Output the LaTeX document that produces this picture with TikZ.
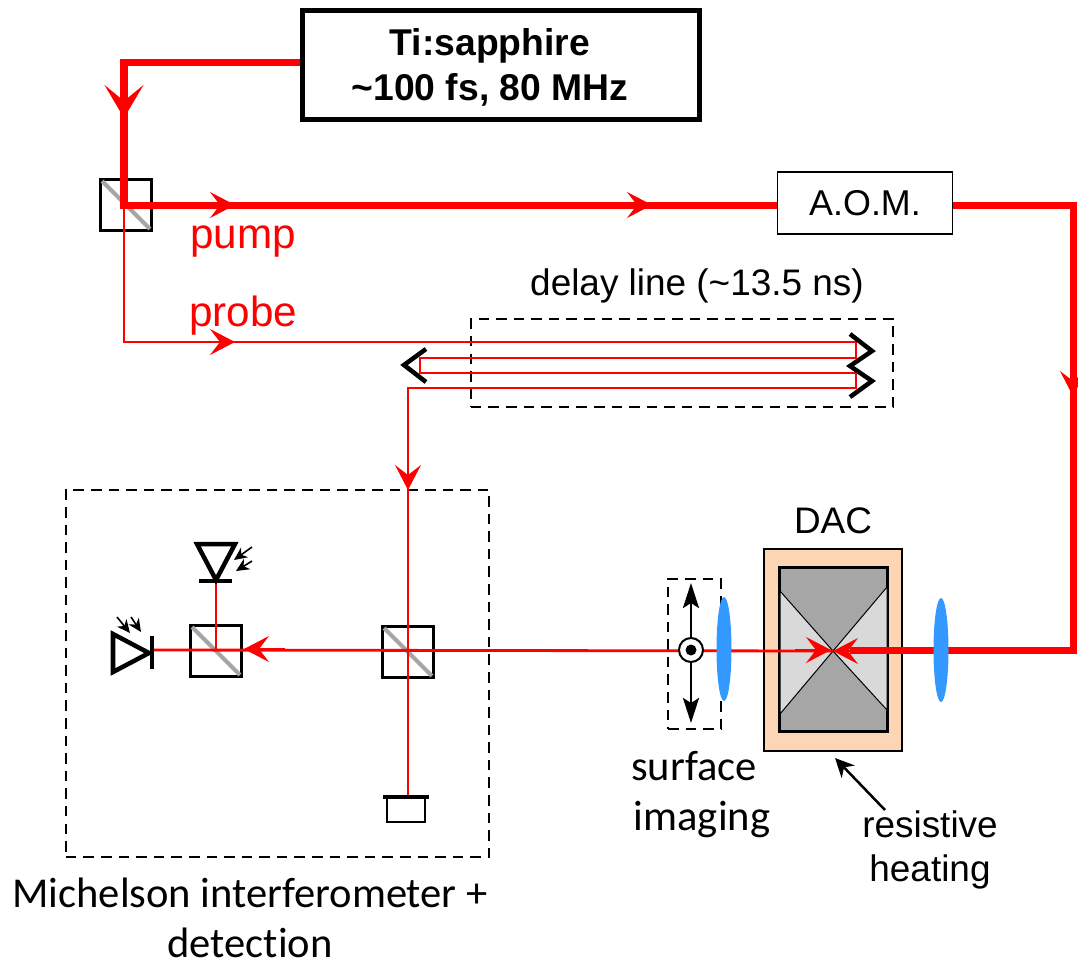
\documentclass[tikz,border=0pt]{standalone}
\usepackage{fontspec}
\setmainfont{Liberation Sans}
\newfontfamily\calfont[Ligatures={NoCommon}]{Carlito}
\usepackage{xcolor}
\usetikzlibrary{arrows.meta,positioning,shapes.geometric}
\definecolor{beamred}{RGB}{255,0,0}
\definecolor{lensblue}{RGB}{51,153,255}
\definecolor{heaterorange}{RGB}{252,213,180}
\definecolor{anvildark}{RGB}{166,166,166}
\definecolor{anvillight}{RGB}{217,217,217}

\begin{document}
\begin{tikzpicture}[
    x=0.01cm, y=-0.01cm,
    pumpbeam/.style={draw=beamred, line width=0.07cm, line join=miter},
    probebeam/.style={draw=beamred, line width=0.028cm, line join=miter},
    bigtip/.style={-{Stealth[length=3.3mm,width=3.9mm,inset=1.6mm]}, draw=beamred, fill=beamred},
    smalltip/.style={-{Stealth[length=2.5mm,width=2.6mm,inset=1mm]}, draw=beamred, fill=beamred},
    cube/.style={rectangle, draw=black, line width=0.025cm, minimum size=0.51cm, inner sep=0pt},
    split/.style={draw=anvildark, line width=0.04cm, shorten <=0.04cm, shorten >=0.04cm},
    framed/.style={draw=black, densely dashed, line width=0.015cm},
    mirror/.style={draw=black, line width=0.045cm},
    lens/.style={ellipse, fill=lensblue, minimum width=0.15cm, minimum height=1.04cm, inner sep=0pt},
    photon/.style={draw=black, line width=0.016cm, -{Stealth[length=1.3mm,width=1.2mm,inset=0.4mm]}},
    motion/.style={draw=black, line width=0.025cm, -{Stealth[length=2.5mm,width=1.6mm,inset=0.5mm]}},
    sign/.style={font=\fontsize{10.5}{12.5}\selectfont, align=center},
    calsign/.style={font=\calfont\fontsize{12.1}{14.8}\selectfont, align=center, inner sep=0pt},
    beamname/.style={font=\fontsize{12}{14}\selectfont, text=beamred}
]
\useasboundingbox (0,0) rectangle (1078,960);

\node[rectangle, draw=black, line width=0.05cm, minimum width=3.97cm, minimum height=1.09cm] (laser) at (501,65) {};
\node[font=\fontsize{10.6}{12.8}\selectfont\bfseries, align=center] (lasertext) at (490,67)
      {Ti:sapphire\\\textasciitilde100 fs, 80 MHz};
\node[rectangle, draw=black, line width=0.015cm, minimum width=1.75cm, minimum height=0.62cm,
      font=\fontsize{10.2}{12}\selectfont] (aom) at (865,203) {A.O.M.};

\node[cube] (bs1) at (126,205) {};
\node[cube] (bs2) at (408,652) {};
\node[cube] (bs3) at (216,651) {};
\draw[split] (bs1.north west) -- (bs1.south east);
\draw[split] (bs2.north west) -- (bs2.south east);
\draw[split] (bs3.north west) -- (bs3.south east);

\node[rectangle, framed, minimum width=4.22cm, minimum height=0.88cm] (delay) at (682,363) {};
\node[rectangle, framed, minimum width=4.23cm, minimum height=3.67cm] (michelson) at (277.5,673.5) {};
\node[rectangle, framed, minimum width=0.53cm, minimum height=1.5cm] (imaging) at (694.5,654) {};

\node[sign] (delaytext) at (697,286) {delay line (\textasciitilde13.5 ns)};
\node[beamname] (pumptext) at (243,242) {pump};
\node[beamname] (probetext) at (243,316) {probe};
\node[calsign] (michelsontext) at (250,893) {Michelson interferometer +};
\node[calsign] (detectiontext) at (250,943) {detection};
\node[calsign] (surfacetext) at (694,766) {surface};
\node[calsign] (imagingtext) at (702,820) {imaging};
\node[sign] (heatingtext) at (930,850) {resistive\\heating};

\node[rectangle, draw=black, line width=0.02cm, fill=heaterorange, minimum width=1.38cm, minimum height=2.02cm] (heater) at (833,650) {};
\node[sign] (dactext) at (833,521) {DAC};
\node[rectangle, draw=black, line width=0.03cm, fill=anvildark, minimum width=1.07cm, minimum height=1.63cm] (cell) at (833.5,649.5) {};
\coordinate (focus) at (833,651);
\coordinate (lefttop) at (780,591);
\coordinate (leftlow) at (780,714);
\coordinate (righttop) at (887,587);
\coordinate (rightlow) at (887,710);
\filldraw[fill=anvillight, draw=black, line width=0.01cm] (lefttop) -- (focus) -- (leftlow) -- cycle;
\filldraw[fill=anvillight, draw=black, line width=0.01cm] (righttop) -- (focus) -- (rightlow) -- cycle;

\coordinate (c1) at (124,62);
\coordinate (c2) at (1073,205);
\coordinate (c3) at (1073,650);
\coordinate (c4) at (124,342);
\coordinate (c5) at (850,650);
\coordinate (t1) at (124,118);
\coordinate (t2) at (235,205);
\coordinate (t3) at (652,205);
\coordinate (t4) at (1073,396);
\coordinate (t5) at (235,342);
\coordinate (t6) at (408,490);
\coordinate (t7) at (244,649);
\coordinate (t8) at (831,650);
\coordinate (r1) at (856,342);
\coordinate (r2) at (856,358);
\coordinate (r3) at (420,358);
\coordinate (r4) at (420,373);
\coordinate (r5) at (856,373);
\coordinate (r6) at (856,388);
\coordinate (r7) at (408,388);
\coordinate (d1) at (216,581);
\coordinate (d2) at (152,650);
\coordinate (endmirror) at (406,797);
\coordinate (h1) at (885,810);
\coordinate (h2) at (835,758);

\draw[pumpbeam] (laser.west |- c1) -- (c1) -- (c1 |- bs1.center) -- (aom.west |- bs1.center);
\draw[pumpbeam] (aom.east |- c2) -- (c2) -- (c3) -- (c5);
\draw[probebeam] (c1 |- bs1.center) -- (c4) -- (r1) -- (r2) -- (r3) -- (r4) -- (r5) -- (r6) -- (r7) -- (r7 |- endmirror);
\draw[probebeam] (focus) -- (d2);
\draw[probebeam] (d1 |- d2) -- (d1);

\draw[bigtip] (124,80) -- (t1);
\draw[smalltip] (200,205) -- (t2);
\draw[smalltip] (620,205) -- (t3);
\draw[smalltip] (1073,370) -- (t4);
\draw[smalltip] (200,342) -- (t5);
\draw[smalltip] (408,460) -- (t6);
\draw[smalltip] (285,649) -- (t7);
\draw[smalltip] (795,650) -- (t8);
\draw[smalltip] (870,651) -- (focus);

\draw[mirror] (850,334) -- (872,351) -- (850,366) -- (872,381) -- (850,397);
\draw[mirror] (426,349) -- (404,365) -- (426,382);

\draw[mirror] (197,544) -- (235,544) -- (216,580) -- cycle;
\draw[mirror] (199,581) -- (232,581);
\draw[mirror] (113,634) -- (149,653) -- (113,672) -- cycle;
\draw[mirror] (152,636) -- (152,669);
\draw[photon] (252,547) -- (234,560);
\draw[photon] (252,561) -- (236,571);
\draw[photon] (117,617) -- (130,633);
\draw[photon] (131,617) -- (141,632);

\draw[draw=black, line width=0.025cm] (387,797) rectangle (425,822);
\draw[mirror] (383,797) -- (429,797);

\node[circle, draw=black, line width=0.02cm, fill=white, minimum size=0.24cm, inner sep=0pt] (axis) at (691,650) {};
\fill[black] (axis) circle (5.5);
\coordinate (u1) at (691,583);
\coordinate (u2) at (691,723);
\draw[motion] (axis.north) -- (u1);
\draw[motion] (axis.south) -- (u2);

\node[lens] (lens1) at (724,649) {};
\node[lens] (lens2) at (941,650) {};

\draw[draw=black, line width=0.025cm, -{Stealth[length=1.9mm,width=1.8mm,inset=0.6mm]}] (h1) -- (h2);
\end{tikzpicture}
\end{document}
